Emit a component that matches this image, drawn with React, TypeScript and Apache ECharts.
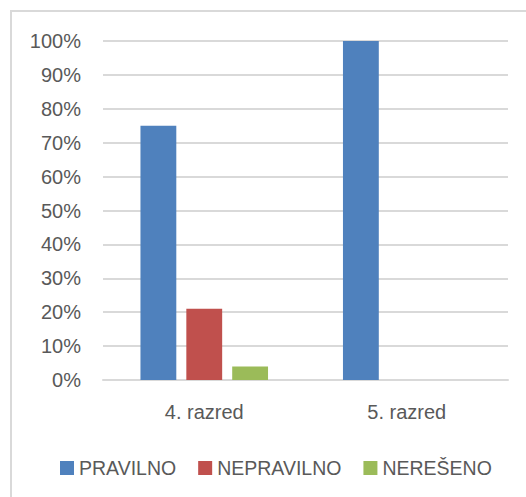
import React, { useEffect, useRef } from "react";
import * as echarts from "echarts";

const categories = ["4. razred", "5. razred"];
const seriesNames = ["PRAVILNO", "NEPRAVILNO", "NEREŠENO"];
const pravilno = [75, 100];
const nepravilno = [21, 0];
const nereseno = [4, 0];
const colors = ["#4F81BD", "#C0504D", "#9BBB59"];

export default function App() {
  const ref = useRef<HTMLDivElement>(null);
  useEffect(() => {
    document.body.style.margin = "0";
    const chart = echarts.init(ref.current!, undefined, { renderer: "svg" });
    const font = "Liberation Sans";
    const dataSets = [pravilno, nepravilno, nereseno];
    chart.setOption({
      animation: false,
      backgroundColor: "#ffffff",
      graphic: [
        {
          type: "rect",
          shape: { x: 11, y: 11, width: 700, height: 700 },
          style: { fill: "none", stroke: "#d9d9d9", lineWidth: 2 },
          silent: true,
        },
      ],
      grid: { left: 103, right: 18, top: 41, bottom: 117 },
      legend: {
        left: 55,
        top: 453,
        itemWidth: 14,
        itemHeight: 14,
        itemGap: 22,
        icon: "rect",
        textStyle: { color: "#595959", fontSize: 19.5, fontFamily: font },
        data: seriesNames,
      },
      xAxis: {
        type: "category",
        data: categories,
        axisLine: { lineStyle: { color: "#d9d9d9", width: 2 } },
        axisTick: { show: false },
        axisLabel: { color: "#595959", fontSize: 20, fontFamily: font, margin: 22 },
      },
      yAxis: {
        type: "value",
        min: 0,
        max: 100,
        interval: 10,
        axisLine: { show: false },
        axisTick: { show: false },
        splitLine: { lineStyle: { color: "#d9d9d9", width: 2 } },
        axisLabel: {
          color: "#595959",
          fontSize: 20,
          fontFamily: font,
          margin: 22,
          formatter: "{value}%",
        },
      },
      series: seriesNames.map((name, i) => ({
        name,
        type: "bar",
        data: dataSets[i],
        barGap: "28%",
        barCategoryGap: "37%",
        itemStyle: { color: colors[i] },
      })),
    });
    return () => chart.dispose();
  }, []);
  return <div ref={ref} style={{ width: 526, height: 497 }} />;
}
